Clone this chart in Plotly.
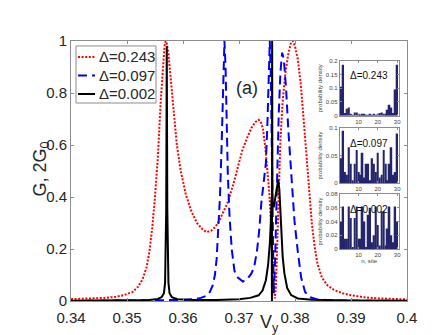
import plotly.graph_objects as go

# ---------------- main conductance curves ----------------
v_red = [0.3400, 0.3430, 0.3460, 0.3480, 0.3495, 0.3510, 0.3520, 0.3528, 0.3535, 0.3540,
         0.3545, 0.3550, 0.3555, 0.3560, 0.3564, 0.3567, 0.3569, 0.3571, 0.3574, 0.3578,
         0.3583, 0.3589, 0.3596, 0.3605, 0.3615, 0.3625, 0.3635, 0.3642, 0.3650, 0.3658,
         0.3665, 0.3672, 0.3680, 0.3690, 0.3698, 0.3706, 0.3715, 0.3722, 0.3729, 0.3735,
         0.3739, 0.3743, 0.3747, 0.3750, 0.3754, 0.3757, 0.3760, 0.3762, 0.3764, 0.3766,
         0.3768, 0.3771, 0.3774, 0.3778, 0.3783, 0.3788, 0.3793, 0.3796, 0.3800, 0.3805,
         0.3810, 0.3815, 0.3820, 0.3825, 0.3830, 0.3835, 0.3840, 0.3848, 0.3858, 0.3870,
         0.3885, 0.3900, 0.3925, 0.3950, 0.3975, 0.4000]
g_red = [0.007, 0.009, 0.012, 0.016, 0.023, 0.035, 0.055, 0.085, 0.13, 0.19,
         0.28, 0.40, 0.55, 0.76, 0.91, 0.98, 1.00, 0.99, 0.95, 0.86,
         0.73, 0.60, 0.50, 0.41, 0.345, 0.30, 0.275, 0.265, 0.27, 0.285,
         0.31, 0.34, 0.38, 0.45, 0.52, 0.58, 0.63, 0.665, 0.688, 0.697,
         0.69, 0.66, 0.59, 0.52, 0.42, 0.30, 0.16, 0.07, 0.01, 0.06,
         0.22, 0.45, 0.62, 0.77, 0.88, 0.95, 0.995, 1.00, 0.98, 0.93,
         0.84, 0.71, 0.56, 0.42, 0.30, 0.21, 0.145, 0.09, 0.06, 0.042,
         0.03, 0.022, 0.014, 0.010, 0.008, 0.006]

v_blue = [0.3400, 0.3500, 0.3560, 0.3600, 0.3620, 0.3632, 0.3642, 0.3648, 0.3653, 0.3657,
          0.3660, 0.3663, 0.3666, 0.3669, 0.3671, 0.3673, 0.3674, 0.3676, 0.3678, 0.3680,
          0.3683, 0.3687, 0.3692, 0.3698, 0.3707, 0.3715, 0.3722, 0.3727, 0.3732, 0.3736,
          0.3740, 0.3744, 0.3748, 0.3751, 0.3753, 0.3755, 0.3757, 0.3759, 0.3761, 0.3762,
          0.3764, 0.3766, 0.3768, 0.3771, 0.3774, 0.3777, 0.3780, 0.3784, 0.3788, 0.3793,
          0.3799, 0.3805, 0.3811, 0.3818, 0.3826, 0.3840, 0.3870, 0.3950, 0.4000]
g_blue = [0.000, 0.001, 0.002, 0.004, 0.007, 0.012, 0.02, 0.035, 0.06, 0.10,
          0.16, 0.26, 0.40, 0.60, 0.80, 0.95, 1.00, 0.90, 0.70, 0.49,
          0.33, 0.20, 0.115, 0.09, 0.075, 0.085, 0.105, 0.13, 0.19, 0.27,
          0.38, 0.46, 0.53, 0.70, 0.87, 1.00, 0.85, 0.55, 0.22, 0.03,
          0.12, 0.30, 0.49, 0.72, 0.88, 0.955, 0.93, 0.82, 0.66, 0.49,
          0.31, 0.19, 0.09, 0.035, 0.015, 0.006, 0.002, 0.001, 0.000]

v_black = [0.3400, 0.3500, 0.3540, 0.3555, 0.3562, 0.3566, 0.3568, 0.3570, 0.3571, 0.3572,
           0.3574, 0.3576, 0.3580, 0.3590, 0.3620, 0.3660, 0.3700, 0.3720, 0.3735, 0.3742,
           0.3748, 0.3752, 0.3755, 0.3757, 0.37583, 0.37588, 0.37592, 0.37597, 0.3762, 0.3765,
           0.3768, 0.3770, 0.3772, 0.3775, 0.3778, 0.3781, 0.3786, 0.3793, 0.3805, 0.3830,
           0.3900, 0.4000]
g_black = [0.001, 0.002, 0.004, 0.008, 0.015, 0.03, 0.07, 0.35, 0.98, 0.35,
           0.07, 0.03, 0.015, 0.007, 0.004, 0.004, 0.007, 0.012, 0.022, 0.04,
           0.08, 0.14, 0.22, 0.31, 0.40, 0.00, 1.00, 0.38, 0.36, 0.40,
           0.455, 0.466, 0.43, 0.28, 0.17, 0.107, 0.05, 0.023, 0.01, 0.005,
           0.002, 0.001]

series_names = ["\u0394=0.243", "\u0394=0.097", "\u0394=0.002"]

# ---------------- inset probability densities ----------------
sites = list(range(1, 31))
pd_243 = [0.105, 0.185, 0.01, 0.025, 0.03, 0.006, 0.003, 0.012, 0.012, 0.005,
          0.003, 0.006, 0.004, 0.002, 0.003, 0.004, 0.002, 0.005, 0.003, 0.004,
          0.01, 0.012, 0.005, 0.004, 0.022, 0.04, 0.03, 0.01, 0.095, 0.185]
pd_097 = [0.045, 0.095, 0.02, 0.015, 0.065, 0.035, 0.005, 0.035, 0.06, 0.02,
          0.015, 0.055, 0.01, 0.035, 0.035, 0.005, 0.045, 0.035, 0.02, 0.055,
          0.01, 0.015, 0.06, 0.035, 0.005, 0.035, 0.065, 0.015, 0.02, 0.09]
pd_002 = [0.04, 0.062, 0.015, 0.015, 0.062, 0.045, 0.003, 0.045, 0.062, 0.015,
          0.015, 0.062, 0.04, 0.003, 0.05, 0.06, 0.01, 0.02, 0.062, 0.035,
          0.005, 0.055, 0.055, 0.005, 0.03, 0.062, 0.02, 0.01, 0.062, 0.04]

x_tickvals = [0.34, 0.35, 0.36, 0.37, 0.38, 0.39, 0.40]
x_ticktext = ["0.34", "0.35", "0.36", "0.37", "0.38", "0.39", "0.4"]
y_tickvals = [0, 0.2, 0.4, 0.6, 0.8, 1.0]
y_ticktext = ["0", "0.2", "0.4", "0.6", "0.8", "1"]

FONT = "Liberation Sans, Arial, sans-serif"
AXC = "#8c8c8c"
TXT = "#262626"
colors = ["#ff0000", "#0000ff", "#000000"]
dashes = ["2px,1.6px", "9px,5px", "solid"]

fig = go.Figure()
for xs, ys, nm, c, d in zip([v_red, v_blue, v_black], [g_red, g_blue, g_black],
                            series_names, colors, dashes):
    fig.add_trace(go.Scatter(x=xs, y=ys, mode="lines", name=nm, showlegend=False,
                             line=dict(color=c, width=2, dash=d)))

bar_col = "#24246b"
for k, vals in enumerate([pd_243, pd_097, pd_002]):
    fig.add_trace(go.Bar(x=sites, y=vals, marker=dict(color=bar_col, line=dict(width=0)),
                         showlegend=False, xaxis="x%d" % (k + 2), yaxis="y%d" % (k + 2)))

main_axis = dict(showline=True, linecolor=AXC, linewidth=1, mirror="ticks", ticks="inside",
                 ticklen=3, tickcolor=AXC, showgrid=False, zeroline=False,
                 tickfont=dict(family=FONT, size=15, color=TXT))

inset_x = dict(showline=True, linecolor=AXC, linewidth=1, mirror="ticks", ticks="inside",
               ticklen=2, tickcolor=AXC, showgrid=False, zeroline=False,
               range=[0.2, 30.8], tickvals=[10, 20, 30],
               tickfont=dict(family=FONT, size=6, color="#444"))
inset_y = dict(showline=True, linecolor=AXC, linewidth=1, mirror="ticks", ticks="inside",
               ticklen=2, tickcolor=AXC, showgrid=False, zeroline=False,
               tickfont=dict(family=FONT, size=6, color="#444"),
               title=dict(text="probability density", font=dict(family=FONT, size=6, color="#444"),
                          standoff=2))

xdom = [0.7997, 0.9753]
ydoms = [[0.7127, 0.9242], [0.4538, 0.6654], [0.20, 0.4115]]
yranges = [[0, 0.2], [0, 0.1], [0, 0.08]]
yticks = [([0, 0.05, 0.1, 0.15, 0.2], ["0", "0.05", "0.1", "0.15", "0.2"]),
          ([0, 0.05, 0.1], ["0", "0.05", "0.1"]),
          ([0, 0.02, 0.04, 0.06, 0.08], ["0", "0.02", "0.04", "0.06", "0.08"])]

layout = dict(
    width=432, height=335, autosize=False,
    margin=dict(l=63, r=33, t=33, b=42),
    paper_bgcolor="white", plot_bgcolor="white",
    font=dict(family=FONT, color=TXT),
    bargap=0.12,
    showlegend=False,
    xaxis=dict(main_axis, domain=[0, 1], range=[0.34, 0.40],
               tickvals=x_tickvals, ticktext=x_ticktext, ticklabelstandoff=3),
    yaxis=dict(main_axis, domain=[0, 1], range=[0, 1],
               tickvals=y_tickvals, ticktext=y_ticktext),
)
for k in range(3):
    xa = dict(inset_x, domain=xdom, anchor="y%d" % (k + 2))
    if k == 2:
        xa["title"] = dict(text="n, site", font=dict(family=FONT, size=6, color="#444"), standoff=1)
    layout["xaxis%d" % (k + 2)] = xa
    layout["yaxis%d" % (k + 2)] = dict(inset_y, domain=ydoms[k], anchor="x%d" % (k + 2),
                                       range=yranges[k], tickvals=yticks[k][0],
                                       ticktext=yticks[k][1])
fig.update_layout(**layout)

# ---------------- legend box (MATLAB-style, compact) ----------------
leg_x0, leg_x1, leg_y0, leg_y1 = 0.0149, 0.253, 0.7615, 0.981
row_y = [0.9385, 0.8673, 0.7962]
line_x0, line_x1, text_x = 0.0208, 0.0714, 0.0774
shapes = [dict(type="rect", xref="paper", yref="paper", x0=leg_x0, x1=leg_x1, y0=leg_y0, y1=leg_y1,
               line=dict(color=AXC, width=1), fillcolor="white", layer="above")]
ann = []
for k in range(3):
    shapes.append(dict(type="line", xref="paper", yref="paper", x0=line_x0, x1=line_x1,
                       y0=row_y[k], y1=row_y[k], line=dict(color=colors[k], width=2, dash=dashes[k])))
    ann.append(dict(text=series_names[k], x=text_x, y=row_y[k], xref="paper", yref="paper",
                    xanchor="left", yanchor="middle", showarrow=False,
                    font=dict(family=FONT, size=15, color=TXT)))

ann += [
    dict(text="(a)", x=0.524, y=0.865, xref="paper", yref="paper", showarrow=False,
         font=dict(family=FONT, size=18, color=TXT)),
    dict(text="G, 2G<sub>0</sub>", x=-0.128, y=0.508, xref="paper", yref="paper",
         showarrow=False, textangle=-90, font=dict(family=FONT, size=18, color=TXT)),
    dict(text="V<sub>y</sub>", x=0.592, y=-0.036, xref="paper", yref="paper",
         yanchor="top", showarrow=False, font=dict(family=FONT, size=18, color=TXT)),
]
for k in range(3):
    ann.append(dict(text=series_names[k], x=0.5, y=0.86, xref="x%d domain" % (k + 2),
                    yref="y%d domain" % (k + 2), showarrow=False,
                    font=dict(family=FONT, size=10, color="#111")))
fig.update_layout(annotations=ann, shapes=shapes)

fig.write_html("out.html")
